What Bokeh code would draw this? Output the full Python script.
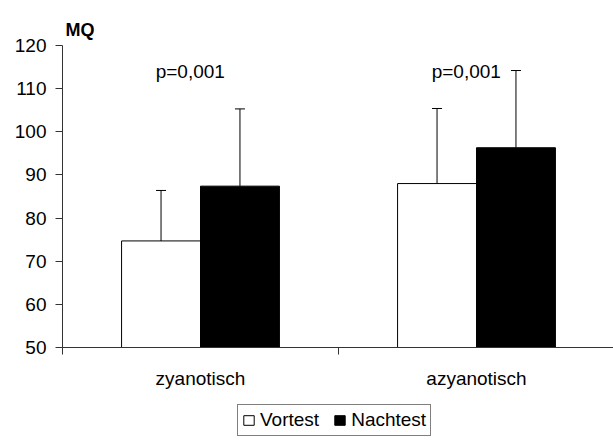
from bokeh.plotting import figure
from bokeh.layouts import column
from bokeh.models import (Range1d, FixedTicker, Whisker, ColumnDataSource,
                          Legend, LegendItem, TeeHead)
from bokeh.core.properties import value
from bokeh.embed import file_html
from bokeh.resources import INLINE

categories = ["zyanotisch", "azyanotisch"]
vortest = [74.7, 88.0]
vortest_lower = [63.5, 70.7]
vortest_upper = [86.4, 105.4]
nachtest = [87.4, 96.3]
nachtest_upper = [105.3, 114.2]
p_labels = ["p=0,001", "p=0,001"]
y_ticks = [50, 60, 70, 80, 90, 100, 110, 120]
series_names = ["Vortest", "Nachtest"]

FONT = "Liberation Sans"
AXIS_COLOR = "#333333"

centers = [i + 0.5 for i in range(len(categories))]
bw = 0.286
x_v = [c - bw / 2 for c in centers]
x_n = [c + bw / 2 for c in centers]

p = figure(width=613, height=397, output_backend="svg", toolbar_location=None,
           x_range=Range1d(0, 551 / 276), y_range=Range1d(50, 120),
           min_border_left=62, min_border_right=0, min_border_top=45,
           min_border_bottom=50)
p.outline_line_color = None
p.xgrid.visible = False
p.ygrid.visible = False

p.title.text = "MQ"
p.title.text_font = FONT
p.title.text_font_style = "bold"
p.title.text_font_size = "18px"
p.title.text_color = "black"
p.title.align = "left"
p.title.vertical_align = "middle"
p.title.offset = 3
p.title.standoff = 10

p.vbar(x=x_v, top=vortest, bottom=50, width=bw, fill_color="white",
       line_color="black", line_width=1)
p.vbar(x=x_n, top=nachtest, bottom=50, width=bw, fill_color="black",
       line_color="black", line_width=1)

src_v = ColumnDataSource(dict(x=x_v, lower=vortest_lower, upper=vortest_upper))
src_n = ColumnDataSource(dict(x=x_n, lower=nachtest, upper=nachtest_upper))

p.add_layout(Whisker(base="x", lower="lower", upper="upper", source=src_v,
                     line_color="black", line_width=1,
                     upper_head=TeeHead(size=10, line_color="black", line_width=1),
                     lower_head=TeeHead(size=10, line_color="black", line_width=1)))
p.add_layout(Whisker(base="x", lower="lower", upper="upper", source=src_n,
                     line_color="black", line_width=1,
                     upper_head=TeeHead(size=10, line_color="black", line_width=1),
                     lower_head=None))

p.text(x=[c - 0.037 for c in centers], y=[114.0] * len(centers), text=p_labels,
       text_font=value(FONT), text_font_size="19px", text_color="black",
       text_align="center", text_baseline="alphabetic")

# x axis
xa = p.xaxis[0]
xa.ticker = FixedTicker(ticks=centers, minor_ticks=[0, 1, 2])
xa.major_label_overrides = {c: lab for c, lab in zip(centers, categories)}
xa.major_tick_out = 0
xa.major_tick_in = 0
xa.minor_tick_out = 7
xa.minor_tick_in = 0
xa.minor_tick_line_color = AXIS_COLOR
xa.axis_line_color = AXIS_COLOR
xa.major_label_standoff = 13
xa.major_label_text_font = FONT
xa.major_label_text_font_size = "19px"
xa.major_label_text_color = "black"

# y axis
ya = p.yaxis[0]
ya.ticker = FixedTicker(ticks=y_ticks)
ya.major_tick_out = 7
ya.major_tick_in = 0
ya.minor_tick_out = 0
ya.minor_tick_in = 0
ya.axis_line_color = AXIS_COLOR
ya.major_tick_line_color = AXIS_COLOR
ya.major_label_standoff = 9
ya.major_label_text_font = FONT
ya.major_label_text_font_size = "19px"
ya.major_label_text_color = "black"

# legend strip (separate figure so that the legend is not clipped)
lg = figure(width=613, height=43, output_backend="svg", toolbar_location=None,
            x_range=Range1d(0, 1), y_range=Range1d(0, 1),
            min_border_left=0, min_border_right=0, min_border_top=0,
            min_border_bottom=0)
lg.axis.visible = False
lg.xgrid.visible = False
lg.ygrid.visible = False
lg.outline_line_color = None
# off-screen proxies: they only supply the legend swatches
d_v = lg.vbar(x=[-10], top=[-10], bottom=[-11], width=0.1, fill_color="white",
              line_color="black", line_width=1)
d_n = lg.vbar(x=[-10], top=[-10], bottom=[-11], width=0.1, fill_color="black",
              line_color="black", line_width=1)

legend = Legend(items=[LegendItem(label=series_names[0], renderers=[d_v]),
                       LegendItem(label=series_names[1], renderers=[d_n])],
                orientation="horizontal", location=(175, 4),
                border_line_color="black", border_line_width=1,
                padding=4, spacing=14, label_standoff=5,
                glyph_width=13, glyph_height=12, label_height=18,
                label_text_font=FONT, label_text_font_size="19px",
                label_text_color="black", margin=0)
lg.add_layout(legend, "center")

layout = column(p, lg, spacing=0)
open("out.html", "w").write(file_html(layout, INLINE))
